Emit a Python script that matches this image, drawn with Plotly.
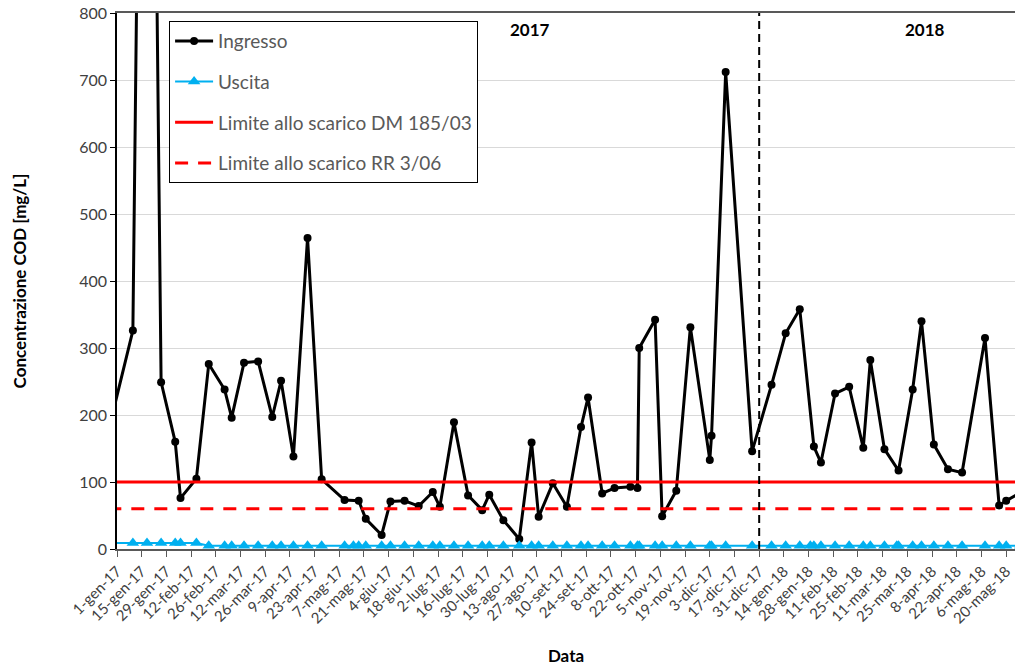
import plotly.graph_objects as go

# ---------------- data ----------------
ingresso_dates = [
    "2016-12-27", "2017-01-10", "2017-01-18", "2017-01-26", "2017-02-03", "2017-02-06",
    "2017-02-15", "2017-02-22", "2017-03-03", "2017-03-07", "2017-03-14", "2017-03-22",
    "2017-03-30", "2017-04-04", "2017-04-11", "2017-04-19", "2017-04-27", "2017-05-10",
    "2017-05-18", "2017-05-22", "2017-05-31", "2017-06-05", "2017-06-13", "2017-06-21",
    "2017-06-29", "2017-07-03", "2017-07-11", "2017-07-19", "2017-07-27", "2017-07-31",
    "2017-08-08", "2017-08-17", "2017-08-24", "2017-08-28", "2017-09-05", "2017-09-13",
    "2017-09-21", "2017-09-25", "2017-10-03", "2017-10-10", "2017-10-19", "2017-10-23",
    "2017-10-24", "2017-11-02", "2017-11-06", "2017-11-14", "2017-11-22", "2017-12-03",
    "2017-12-04", "2017-12-12", "2017-12-27", "2018-01-07", "2018-01-15", "2018-01-23",
    "2018-01-31", "2018-02-04", "2018-02-12", "2018-02-20", "2018-02-28", "2018-03-04",
    "2018-03-12", "2018-03-20", "2018-03-28", "2018-04-02", "2018-04-09", "2018-04-17",
    "2018-04-25", "2018-05-08", "2018-05-16", "2018-05-20", "2018-05-28",
]
ingresso_values = [
    175, 326, 2200, 249, 160, 76,
    105, 276, 238, 196, 278, 280,
    197, 251, 138, 464, 104, 73,
    72, 45, 21, 71, 72, 64,
    85, 63, 189, 80, 58, 81,
    43, 15, 159, 48, 98, 63,
    182, 226, 83, 91, 93, 91,
    300, 342, 49, 87, 331, 133,
    169, 712, 146, 245, 322, 358,
    153, 129, 232, 242, 151, 282,
    149, 117, 238, 340, 156, 119,
    114, 315, 65, 72, 84,
]

uscita_dates = [
    "2016-12-27", "2017-01-10", "2017-01-18", "2017-01-26", "2017-02-03", "2017-02-06",
    "2017-02-15", "2017-02-22", "2017-03-03", "2017-03-07", "2017-03-14", "2017-03-22",
    "2017-03-30", "2017-04-04", "2017-04-11", "2017-04-19", "2017-04-27", "2017-05-10",
    "2017-05-15", "2017-05-18", "2017-05-22", "2017-05-31", "2017-06-05", "2017-06-13",
    "2017-06-21", "2017-06-29", "2017-07-03", "2017-07-11", "2017-07-19", "2017-07-27",
    "2017-07-31", "2017-08-08", "2017-08-17", "2017-08-24", "2017-08-28", "2017-09-05",
    "2017-09-13", "2017-09-21", "2017-09-25", "2017-10-03", "2017-10-10", "2017-10-19",
    "2017-10-23", "2017-10-24", "2017-11-02", "2017-11-06", "2017-11-14", "2017-11-22",
    "2017-12-03", "2017-12-04", "2017-12-12", "2017-12-27", "2018-01-07", "2018-01-15",
    "2018-01-23", "2018-01-29", "2018-01-31", "2018-02-04", "2018-02-12", "2018-02-20",
    "2018-02-28", "2018-03-04", "2018-03-12", "2018-03-19", "2018-03-20", "2018-03-28",
    "2018-04-02", "2018-04-09", "2018-04-17", "2018-04-25", "2018-05-08", "2018-05-16",
    "2018-05-20", "2018-05-28",
]
uscita_values = [9, 9, 9, 9, 9, 9, 9] + [5] * 67

limite_dm = 100       # DM 185/03
limite_rr = 60        # RR 3/06
limite_span = ["2016-12-01", "2018-06-30"]

tick_dates = [
    "2017-01-01", "2017-01-15", "2017-01-29", "2017-02-12", "2017-02-26", "2017-03-12",
    "2017-03-26", "2017-04-09", "2017-04-23", "2017-05-07", "2017-05-21", "2017-06-04",
    "2017-06-18", "2017-07-02", "2017-07-16", "2017-07-30", "2017-08-13", "2017-08-27",
    "2017-09-10", "2017-09-24", "2017-10-08", "2017-10-22", "2017-11-05", "2017-11-19",
    "2017-12-03", "2017-12-17", "2017-12-31", "2018-01-14", "2018-01-28", "2018-02-11",
    "2018-02-25", "2018-03-11", "2018-03-25", "2018-04-08", "2018-04-22", "2018-05-06",
    "2018-05-20",
]
tick_labels = [
    "1-gen-17", "15-gen-17", "29-gen-17", "12-feb-17", "26-feb-17", "12-mar-17",
    "26-mar-17", "9-apr-17", "23-apr-17", "7-mag-17", "21-mag-17", "4-giu-17",
    "18-giu-17", "2-lug-17", "16-lug-17", "30-lug-17", "13-ago-17", "27-ago-17",
    "10-set-17", "24-set-17", "8-ott-17", "22-ott-17", "5-nov-17", "19-nov-17",
    "3-dic-17", "17-dic-17", "31-dic-17", "14-gen-18", "28-gen-18", "11-feb-18",
    "25-feb-18", "11-mar-18", "25-mar-18", "8-apr-18", "22-apr-18", "6-mag-18",
    "20-mag-18",
]
y_ticks = [0, 100, 200, 300, 400, 500, 600, 700, 800]

year_split = "2017-12-31"
year_labels = ["2017", "2018"]
year_label_dates = ["2017-08-23", "2018-04-04"]

FONT = "Lato"
TXT = "#404040"

fig = go.Figure()

fig.add_trace(go.Scatter(
    x=ingresso_dates, y=ingresso_values, name="Ingresso", mode="lines+markers",
    line=dict(color="black", width=3), marker=dict(symbol="circle", size=8, color="black"),
    legendgroup="a",
))
fig.add_trace(go.Scatter(
    x=uscita_dates, y=uscita_values, name="Uscita", mode="lines+markers",
    line=dict(color="#00B0F0", width=2),
    marker=dict(symbol="triangle-up", size=11, color="#00B0F0"),
    legendgroup="b",
))
fig.add_trace(go.Scatter(
    x=limite_span, y=[limite_dm, limite_dm], name="Limite allo scarico DM 185/03",
    mode="lines", line=dict(color="#FF0000", width=3), legendgroup="c",
))
fig.add_trace(go.Scatter(
    x=limite_span, y=[limite_rr, limite_rr], name="Limite allo scarico RR 3/06",
    mode="lines", line=dict(color="#FF0000", width=3, dash="13px,10px"), legendgroup="d",
))

fig.add_shape(type="line", x0=year_split, x1=year_split, y0=0, y1=1, xref="x", yref="paper",
              line=dict(color="black", width=2, dash="8px,5px"))

for lab, d in zip(year_labels, year_label_dates):
    fig.add_annotation(x=d, y=775, text="<b>%s</b>" % lab, showarrow=False,
                       font=dict(family=FONT, size=17, color="black"))

fig.update_layout(
    width=1015, height=666,
    margin=dict(l=117, r=0, t=13, b=117, autoexpand=False),
    paper_bgcolor="white", plot_bgcolor="white",
    font=dict(family=FONT, size=16, color=TXT),
    showlegend=True,
    legend=dict(
        x=0.058, y=0.985, xanchor="left", yanchor="top",
        bordercolor="black", borderwidth=1, bgcolor="white",
        font=dict(family=FONT, size=19, color="#595959"),
        traceorder="grouped", tracegroupgap=13, itemwidth=38,
    ),
    xaxis=dict(
        type="date", range=["2017-01-01", "2018-05-25"],
        tickvals=tick_dates, ticktext=tick_labels, tickangle=-45,
        ticks="outside", ticklen=6, tickcolor="#595959",
        showline=True, linecolor="#595959", linewidth=1.5, mirror=True,
        showgrid=False, zeroline=False, automargin=False, ticklabeloverflow="allow",
        tickfont=dict(family=FONT, size=15, color=TXT),
        title=dict(text="<b>Data</b>", font=dict(family=FONT, size=17, color="black"), standoff=24),
    ),
    yaxis=dict(
        range=[0, 800], tickvals=y_ticks,
        ticks="outside", ticklen=5, tickcolor="black",
        showline=True, linecolor="black", linewidth=1.5,
        showgrid=True, gridcolor="#D9D9D9", gridwidth=1, zeroline=False, automargin=False,
        ticklabeloverflow="allow",
        tickfont=dict(family=FONT, size=16, color=TXT),
        title=dict(text="<b>Concentrazione COD [mg/L]</b>",
                   font=dict(family=FONT, size=17, color="black"), standoff=48),
    ),
)

# remove the default 8px page margin so the figure sits at the window's top-left corner
fig.write_html("out.html", config={"displayModeBar": False},
               post_script="document.body.style.margin='0';")
